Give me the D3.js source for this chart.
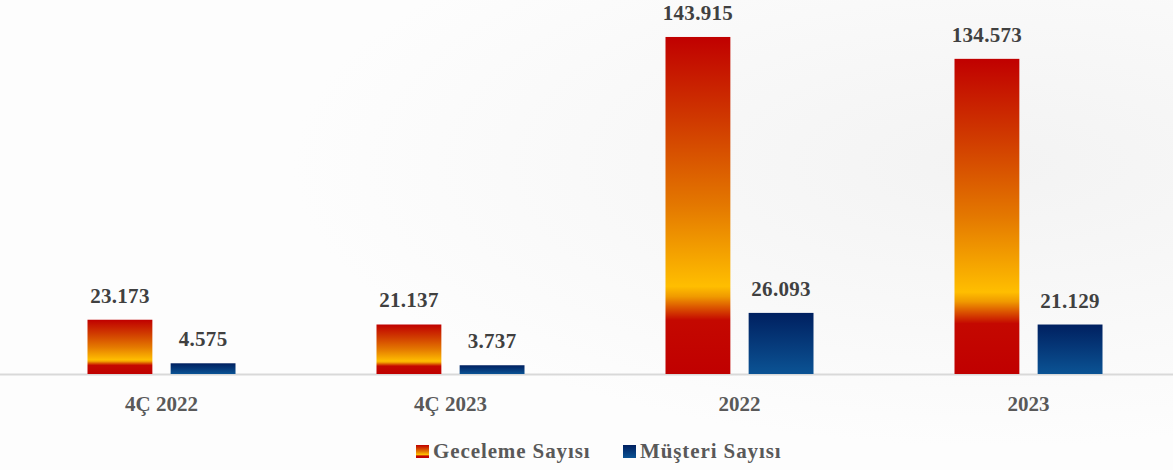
<!DOCTYPE html>
<html>
<head>
<meta charset="utf-8">
<script src="https://cdn.jsdelivr.net/npm/d3@7"></script>
<style>
  html, body { margin: 0; padding: 0; background: #fcfcfc; }
  svg { display: block; font-family: "Liberation Serif", "DejaVu Serif", serif; }
</style>
</head>
<body>
<svg></svg>
<script>
var categories = ["4Ç 2022", "4Ç 2023", "2022", "2023"];
var series = ["Geceleme Sayısı", "Müşteri Sayısı"];
var geceleme = [23.173, 21.137, 143.915, 134.573];
var musteri = [4.575, 3.737, 26.093, 21.129];

var width = 1173,
    height = 470,
    baseY = 374;

var svg = d3.select("svg").attr("width", width).attr("height", height);
var defs = svg.append("defs");

// soft grey background on the right and top
var bg = defs.append("radialGradient").attr("id", "bg")
    .attr("cx", "0.85").attr("cy", "0.35").attr("r", "0.6");
bg.append("stop").attr("offset", "0%").attr("stop-color", "#f3f3f3");
bg.append("stop").attr("offset", "100%").attr("stop-color", "#fdfdfd");
svg.append("rect").attr("width", width).attr("height", height).attr("fill", "url(#bg)");

var redGrad = defs.append("linearGradient").attr("id", "redGrad")
    .attr("x1", 0).attr("y1", 0).attr("x2", 0).attr("y2", 1);
[["0%", "#c00000"], ["25%", "#d03a00"], ["50%", "#e47800"], ["74%", "#ffbe00"],
 ["77%", "#f09a00"], ["80%", "#dd5a00"], ["84%", "#c40800"], ["100%", "#c00000"]]
  .forEach(function(s) { redGrad.append("stop").attr("offset", s[0]).attr("stop-color", s[1]); });

var blueGrad = defs.append("linearGradient").attr("id", "blueGrad")
    .attr("x1", 0).attr("y1", 0).attr("x2", 0).attr("y2", 1);
blueGrad.append("stop").attr("offset", "0%").attr("stop-color", "#002060");
blueGrad.append("stop").attr("offset", "100%").attr("stop-color", "#0b5394");

var x0 = d3.scaleBand().domain(categories).range([17, 1173]);
var x1 = d3.scaleBand().domain(series).range([0, 148]).paddingInner(0.22);
var y = d3.scaleLinear().domain([0, 160]).range([baseY, -0.7]);

var fills = ["url(#redGrad)", "url(#blueGrad)"];
var values = [geceleme, musteri];

// axis line
svg.append("line")
    .attr("x1", 0).attr("x2", width)
    .attr("y1", baseY + 0.5).attr("y2", baseY + 0.5)
    .attr("stroke", "#d9d9d9").attr("stroke-width", 2);

var groups = svg.selectAll("g.cat")
    .data(categories)
    .join("g")
    .attr("class", "cat")
    .attr("transform", function(d) { return "translate(" + (x0(d) + x0.bandwidth() / 2 - 74) + ",0)"; });

series.forEach(function(s, si) {
    groups.append("rect")
        .attr("x", x1(s))
        .attr("width", x1.bandwidth())
        .attr("y", function(d, i) { return y(values[si][i]); })
        .attr("height", function(d, i) { return baseY - y(values[si][i]); })
        .attr("fill", fills[si]);

    groups.append("text")
        .attr("x", x1(s) + x1.bandwidth() / 2)
        .attr("y", function(d, i) { return y(values[si][i]) - 17; })
        .attr("text-anchor", "middle")
        .attr("font-size", 21)
        .attr("font-weight", "bold")
        .attr("letter-spacing", 0.3)
        .attr("fill", "#404040")
        .text(function(d, i) { return d3.format(".3f")(values[si][i]); });
});

// category labels
svg.selectAll("text.cat-label")
    .data(categories)
    .join("text")
    .attr("class", "cat-label")
    .attr("x", function(d) { return x0(d) + x0.bandwidth() / 2; })
    .attr("y", 411)
    .attr("text-anchor", "middle")
    .attr("font-size", 21)
    .attr("font-weight", "bold")
    .attr("fill", "#595959")
    .text(function(d) { return d; });

// legend
var legendX = [416, 623];
var legend = svg.selectAll("g.legend")
    .data(series)
    .join("g")
    .attr("class", "legend")
    .attr("transform", function(d, i) { return "translate(" + legendX[i] + ",445)"; });

legend.append("rect")
    .attr("width", 13).attr("height", 13)
    .attr("fill", function(d, i) { return fills[i]; });

legend.append("text")
    .attr("x", 17)
    .attr("y", 13)
    .attr("font-size", 21)
    .attr("font-weight", "bold")
    .attr("letter-spacing", 0.9)
    .attr("fill", "#595959")
    .text(function(d) { return d; });
</script>
</body>
</html>
